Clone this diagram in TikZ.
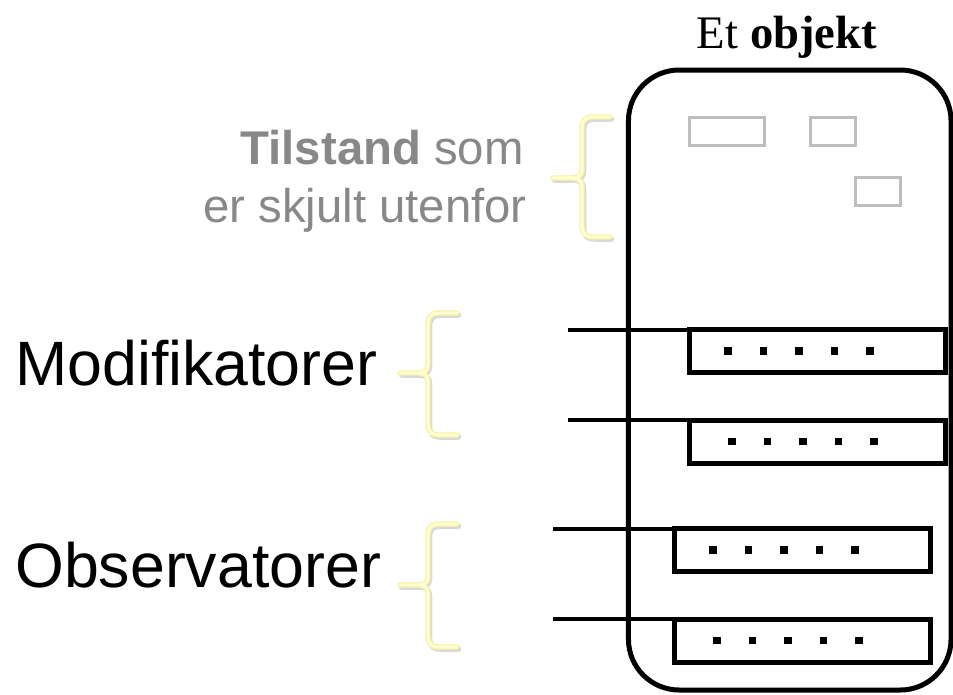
\documentclass[tikz,border=0pt]{standalone}
\usepackage{fontspec}
\setmainfont{Liberation Serif}
\setsansfont{Liberation Sans}
\usetikzlibrary{positioning}
\definecolor{klammegul}{RGB}{255,254,204}
\definecolor{klammekant}{RGB}{246,240,165}
\definecolor{tilstandgraa}{RGB}{190,190,190}
\definecolor{tekstgraa}{RGB}{136,136,136}
\tikzset{
    %Style for the object itself
    objekt/.style={
           rectangle,
           rounded corners=38pt,
           draw=black, line width=3.75pt,
           minimum width=241.9pt,
           minimum height=465pt,
           inner sep=0pt, outer sep=0pt},
    %Style for hidden state boxes
    felt/.style={
           rectangle,
           draw=tilstandgraa, line width=2.25pt,
           minimum height=21pt,
           inner sep=0pt, outer sep=0pt},
    %Style for method boxes
    metode/.style={
           rectangle,
           draw=black, line width=3.75pt,
           minimum width=192pt,
           minimum height=32.25pt,
           inner sep=0pt, outer sep=0pt},
    % Define line style
    linje/.style={
           black,
           line width=3pt},
    klammekant/.style={
           draw=klammekant,
           line width=4pt,
           line join=round, line cap=round},
    klamme/.style={
           draw=klammegul,
           line width=2.4pt,
           line join=round, line cap=round},
    skygge/.style={
           draw=black!15,
           line width=4pt,
           line join=round, line cap=round,
           xshift=1.2pt, yshift=-1.6pt},
    stor/.style={
           font=\sffamily\fontsize{47}{50}\selectfont,
           inner sep=0pt},
    graatekst/.style={
           font=\sffamily\fontsize{35.5}{40}\selectfont,
           text=tekstgraa,
           inner sep=0pt}
}
% #1 end x, #2 stem x, #3 tip x, #4 top y, #5 tip y, #6 bottom y
\newcommand{\klammesti}[6]{%
  (#1,#4) -- ({#2+12},#4) .. controls ({#2+3},#4) and (#2,{#4+3}) .. (#2,{#4+12})
  -- (#2,{#5-9}) .. controls (#2,{#5-3}) and ({#2-3},#5) .. ({#2-10},#5) -- (#3,#5)
  -- ({#2-10},#5) .. controls ({#2-3},#5) and (#2,{#5+3}) .. (#2,{#5+9})
  -- (#2,{#6-12}) .. controls (#2,{#6-3}) and ({#2+3},#6) .. ({#2+12},#6) -- (#1,#6)}

\begin{document}
\begin{tikzpicture}[x=0.75pt,y=-0.75pt]
\useasboundingbox (0,0) rectangle (953,694);

 %object
\node[objekt](objekt) at (789.75,380) {};
\node[inner sep=0pt, anchor=base,
      font=\fontsize{35}{38}\selectfont](tittel) at (787,48) {Et \textbf{objekt}};

 %hidden state
\node[felt, minimum width=56.25pt](felt1) at (727,131.5) {};
\node[felt, minimum width=33.75pt](felt2) at (833,131.5) {};
\node[felt, minimum width=33.75pt](felt3) at (878,191.5) {};

 %methods
\node[metode](mod1) at (817.5,351) {};
\node[metode](mod2) at (817.5,441.5) {};
\node[metode](obs1) at (802.5,550) {};
\node[metode](obs2) at (802.5,640.5) {};

\foreach \b/\o in {mod1/38.5, mod2/42.5, obs1/38.5, obs2/42.5}
  \foreach \i in {0,...,4}
    \fill ([xshift={(\o+35.5*\i)*0.75pt}]\b.west)
          +(-2.9pt,-2.9pt) rectangle +(2.9pt,2.9pt);

 %ends of the lines
\coordinate (inn1) at (568,329.5);
\coordinate (inn2) at (568,420);
\coordinate (inn3) at (553,528.5);
\coordinate (inn4) at (553,619);

\draw[linje] (inn1) -- (mod1.north west);
\draw[linje] (inn2) -- (mod2.north west);
\draw[linje] (inn3) -- (obs1.north west);
\draw[linje] (inn4) -- (obs2.north west);

 %braces
\foreach \sti in {{610}{582}{553}{117}{178}{237},
                  {457}{428}{400}{313}{373}{435},
                  {457}{428}{400}{524}{585}{647}}{
  \path[skygge] \expandafter\klammesti\sti;
  \path[klammekant] \expandafter\klammesti\sti;
  \path[klamme] \expandafter\klammesti\sti;
}

 %texts
\node[graatekst, anchor=base east](tilstand1) at (524,164) {\textbf{Tilstand} som};
\node[graatekst, anchor=base east](tilstand2) at (527,222) {er skjult utenfor};
\node[stor, anchor=base west](modifikatorer) at (15,385) {Modifikatorer};
\node[stor, anchor=base west](observatorer) at (15,587) {Observatorer};

\end{tikzpicture}
\end{document}
